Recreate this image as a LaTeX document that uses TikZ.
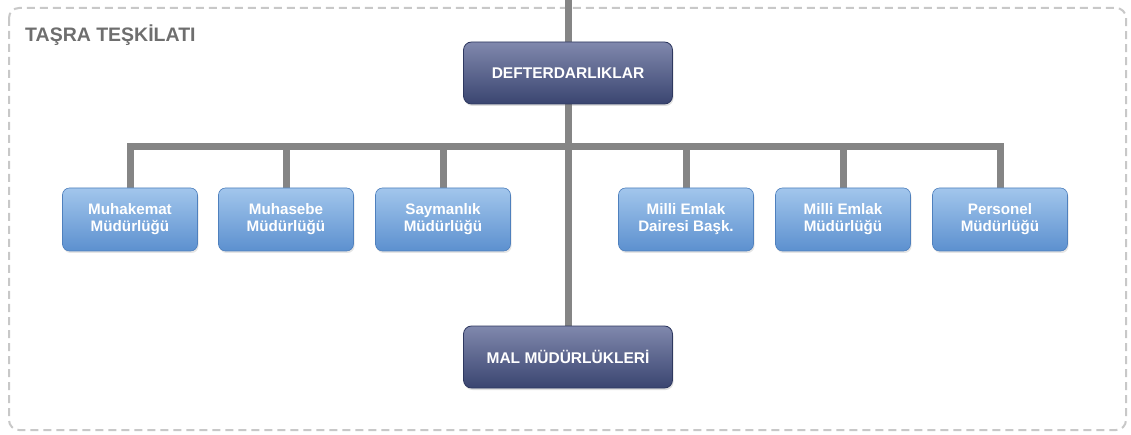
\documentclass[tikz,border=0pt]{standalone}
\usepackage{fontspec}
\setmainfont{Liberation Sans}
\usetikzlibrary{shadows}
\pgfdeclarelayer{background}
\pgfsetlayers{background,main}
\definecolor{linegray}{HTML}{858585}
\definecolor{framegray}{HTML}{C8C8C8}
\definecolor{titlegray}{HTML}{6E6E6E}
\definecolor{darktop}{HTML}{8088AD}
\definecolor{darkbot}{HTML}{3A4570}
\definecolor{darkedge}{HTML}{2E3860}
\definecolor{lighttop}{HTML}{A2C6EC}
\definecolor{lightbot}{HTML}{5C90CF}
\definecolor{lightedge}{HTML}{4F80BD}
\tikzset{
  mainbox/.style={rounded corners=8pt, top color=darktop, bottom color=darkbot,
    draw=darkedge, line width=0.8pt, minimum width=209pt, minimum height=62pt,
    text=white, font=\fontsize{15.5}{17}\selectfont\bfseries, inner sep=0pt,
    drop shadow={opacity=0.25, shadow xshift=1pt, shadow yshift=-2pt}},
  subbox/.style={rounded corners=7pt, top color=lighttop, bottom color=lightbot,
    draw=lightedge, line width=0.6pt, minimum width=135pt, minimum height=63pt,
    text=white, font=\fontsize{15.2}{17}\selectfont\bfseries, align=center, inner sep=0pt,
    drop shadow={opacity=0.2, shadow xshift=1pt, shadow yshift=-2pt}},
  conn/.style={draw=linegray, line width=7pt},
}
\begin{document}
\begin{tikzpicture}[x=1pt, y=-1pt]
\useasboundingbox (0,0) rectangle (1131,435);
\begin{pgfonlayer}{background}
\fill[white] (0,0) rectangle (1131,435);
\draw[framegray, line width=2pt, dash pattern=on 8pt off 5pt, rounded corners=10pt]
  (9,8) rectangle (1126,430);
\end{pgfonlayer}
\node[anchor=base west, text=titlegray, font=\fontsize{19.5}{21}\selectfont\bfseries, inner sep=0pt]
  (title) at (25,42) {TAŞRA TEŞKİLATI};
\coordinate (top) at (568,0);
\coordinate (bus) at (568,147);
\node[mainbox] (def) at (568,73) {DEFTERDARLIKLAR};
\node[mainbox] (mal) at (568,357) {MAL MÜDÜRLÜKLERİ};
\node[subbox] (b1) at (130,219.5) {Muhakemat\\Müdürlüğü};
\node[subbox] (b2) at (286,219.5) {Muhasebe\\Müdürlüğü};
\node[subbox] (b3) at (443,219.5) {Saymanlık\\Müdürlüğü};
\node[subbox] (b4) at (686,219.5) {Milli Emlak\\Dairesi Başk.};
\node[subbox] (b5) at (843,219.5) {Milli Emlak\\Müdürlüğü};
\node[subbox] (b6) at (1000,219.5) {Personel\\Müdürlüğü};
\begin{pgfonlayer}{background}
\draw[conn] (top) -- (def.north);
\draw[conn] (def.south) -- (mal.north);
\draw[conn] (b1.north) |- (bus) -| (b6.north);
\draw[conn] (b2.north) -- (b2.north |- bus);
\draw[conn] (b3.north) -- (b3.north |- bus);
\draw[conn] (b4.north) -- (b4.north |- bus);
\draw[conn] (b5.north) -- (b5.north |- bus);
\end{pgfonlayer}
\end{tikzpicture}
\end{document}
